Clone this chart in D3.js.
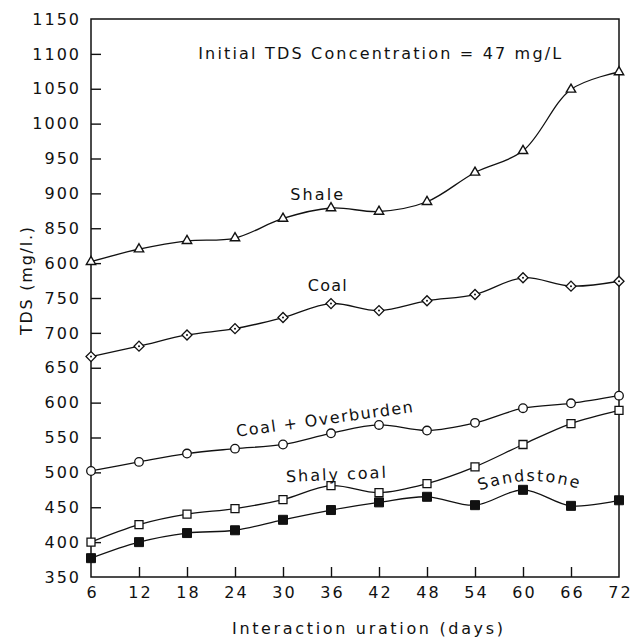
<!DOCTYPE html>
<html>
<head>
<meta charset="utf-8">
<script src="https://cdn.jsdelivr.net/npm/d3@7/dist/d3.min.js"></script>
<style>
  html, body { margin: 0; padding: 0; background: #fff; }
  svg { display: block; }
  text { font-family: "DejaVu Sans", sans-serif; fill: #111; }
</style>
</head>
<body>
<script>
// ---------------- data ----------------
const days = [6, 12, 18, 24, 30, 36, 42, 48, 54, 60, 66, 72];
const shale          = [802, 820, 832, 836, 864, 879, 874, 888, 930, 961, 1049, 1074];
const coal           = [666, 681, 697, 706, 722, 742, 732, 746, 755, 779, 767, 774];
const coalOverburden = [502, 515, 527, 534, 540, 556, 568, 560, 571, 592, 599, 610];
const shalyCoal      = [400, 425, 440, 448, 461, 481, 471, 484, 508, 540, 570, 589];
const sandstone      = [377, 400, 413, 417, 432, 446, 457, 465, 453, 475, 452, 460];

const xTickValues = [6, 12, 18, 24, 30, 36, 42, 48, 54, 60, 66, 72];
const xTickLabels = ["6", "12", "18", "24", "30", "36", "42", "48", "54", "60", "66", "72"];
const yTickValues = [350, 400, 450, 500, 550, 600, 650, 700, 750, 800, 850, 900, 950, 1000, 1050, 1100, 1150];
const yTickLabels = ["350", "400", "450", "500", "550", "600", "650", "700", "750", "600", "850", "900", "950", "1000", "1050", "1100", "1150"];

const titleText = "Initial TDS Concentration = 47 mg/L";
const xTitle = "Interaction uration (days)";
const yTitle = "TDS (mg/l.)";

// ---------------- layout ----------------
const W = 642, H = 642;
const x = d3.scaleLinear().domain([6, 72]).range([91, 619]);
const y = d3.scaleLinear().domain([350, 1150]).range([577, 19]);

const svg = d3.select("body").append("svg").attr("width", W).attr("height", H);

// frame
svg.append("rect")
  .attr("x", x(6)).attr("y", y(1150))
  .attr("width", x(72) - x(6)).attr("height", y(350) - y(1150))
  .attr("fill", "none").attr("stroke", "#111").attr("stroke-width", 1.5);

// y axis
const yAxis = svg.append("g").attr("transform", `translate(${x(6)},0)`)
  .call(d3.axisLeft(y).tickValues(yTickValues)
    .tickFormat((d, i) => yTickLabels[i])
    .tickSizeInner(-10).tickSizeOuter(0).tickPadding(10));
yAxis.select(".domain").remove();
yAxis.selectAll(".tick line").attr("stroke", "#111").attr("stroke-width", 1.4)
  .filter(d => d === 350 || d === 1150).remove();
yAxis.selectAll(".tick text").attr("font-size", 16).attr("letter-spacing", 2)
  .attr("font-family", "DejaVu Sans").attr("fill", "#111");

// x axis
const xAxis = svg.append("g").attr("transform", `translate(0,${y(350)})`)
  .call(d3.axisBottom(x).tickValues(xTickValues)
    .tickFormat((d, i) => xTickLabels[i])
    .tickSizeInner(-10).tickSizeOuter(0).tickPadding(10));
xAxis.select(".domain").remove();
xAxis.selectAll(".tick line").attr("stroke", "#111").attr("stroke-width", 1.4)
  .filter(d => d === 6 || d === 72).remove();
xAxis.selectAll(".tick text").attr("font-size", 16).attr("letter-spacing", 2)
  .attr("font-family", "DejaVu Sans").attr("fill", "#111")
  .attr("dx", 1);

// ---------------- series ----------------
const series = [
  { name: "Shale", values: shale, marker: "triangle" },
  { name: "Coal", values: coal, marker: "diamond" },
  { name: "Coal + Overburden", values: coalOverburden, marker: "circle" },
  { name: "Shaly coal", values: shalyCoal, marker: "square" },
  { name: "Sandstone", values: sandstone, marker: "filled" }
];

const line = d3.line()
  .x((d, i) => x(days[i]))
  .y(d => y(d))
  .curve(d3.curveCatmullRom.alpha(0.5));

series.forEach(s => {
  svg.append("path").datum(s.values)
    .attr("d", line)
    .attr("fill", "none").attr("stroke", "#111").attr("stroke-width", 1.3);
});

const symTri = d3.symbol().type(d3.symbolTriangle).size(38);
const symSq = d3.symbol().type(d3.symbolSquare);

series.forEach(s => {
  const g = svg.append("g");
  s.values.forEach((v, i) => {
    const cx = x(days[i]), cy = y(v);
    if (s.marker === "triangle") {
      g.append("path").attr("d", symTri())
        .attr("transform", `translate(${cx},${cy})`)
        .attr("fill", "#fff").attr("stroke", "#111").attr("stroke-width", 1.4);
    } else if (s.marker === "diamond") {
      g.append("path").attr("d", symSq.size(50)())
        .attr("transform", `translate(${cx},${cy}) rotate(45)`)
        .attr("fill", "#fff").attr("stroke", "#111").attr("stroke-width", 1.3);
      g.append("circle").attr("cx", cx).attr("cy", cy).attr("r", 1)
        .attr("fill", "#111");
    } else if (s.marker === "circle") {
      g.append("circle").attr("cx", cx).attr("cy", cy).attr("r", 4.3)
        .attr("fill", "#fff").attr("stroke", "#111").attr("stroke-width", 1.3);
    } else if (s.marker === "square") {
      g.append("path").attr("d", symSq.size(64)())
        .attr("transform", `translate(${cx},${cy})`)
        .attr("fill", "#fff").attr("stroke", "#111").attr("stroke-width", 1.3);
    } else {
      g.append("path").attr("d", symSq.size(81)())
        .attr("transform", `translate(${cx},${cy})`)
        .attr("fill", "#111").attr("stroke", "#111").attr("stroke-width", 1);
    }
  });
});

// ---------------- annotations (anchored in data units) ----------------
function addLabel(txt, day, val, len, rot) {
  const px = x(day), py = y(val);
  svg.append("text")
    .attr("x", px).attr("y", py)
    .attr("font-size", 16)
    .attr("textLength", len).attr("lengthAdjust", "spacing")
    .attr("transform", rot ? `rotate(${rot},${px},${py})` : null)
    .text(txt);
}
addLabel(titleText, 19.4, 1092, 363, 0);
addLabel("Shale", 30.9, 891, 53, 0);
addLabel("Coal", 33.1, 760, 39, 0);
addLabel("Coal + Overburden", 24.25, 551, 178, -8);
addLabel("Shaly coal", 30.4, 486, 100, -2.5);

// Sandstone label on a gentle arc
const arcStart = [x(54.6), y(474)], arcCtrl = [x(60.8), y(500)], arcEnd = [x(67.1), y(476)];
svg.append("path").attr("id", "sandArc")
  .attr("d", `M${arcStart[0]},${arcStart[1]} Q${arcCtrl[0]},${arcCtrl[1]} ${arcEnd[0]},${arcEnd[1]}`)
  .attr("fill", "none").attr("stroke", "none");
svg.append("text").attr("font-size", 16)
  .append("textPath").attr("href", "#sandArc")
  .attr("textLength", 100).attr("lengthAdjust", "spacing")
  .text("Sandstone");

// axis titles
svg.append("text")
  .attr("x", (232 + 503) / 2).attr("y", 634)
  .attr("text-anchor", "middle").attr("font-size", 16)
  .attr("textLength", 271).attr("lengthAdjust", "spacing")
  .text(xTitle);

svg.append("text")
  .attr("transform", "translate(32,281) rotate(-90)")
  .attr("text-anchor", "middle").attr("font-size", 16)
  .attr("textLength", 108).attr("lengthAdjust", "spacing")
  .text(yTitle);
</script>
</body>
</html>
